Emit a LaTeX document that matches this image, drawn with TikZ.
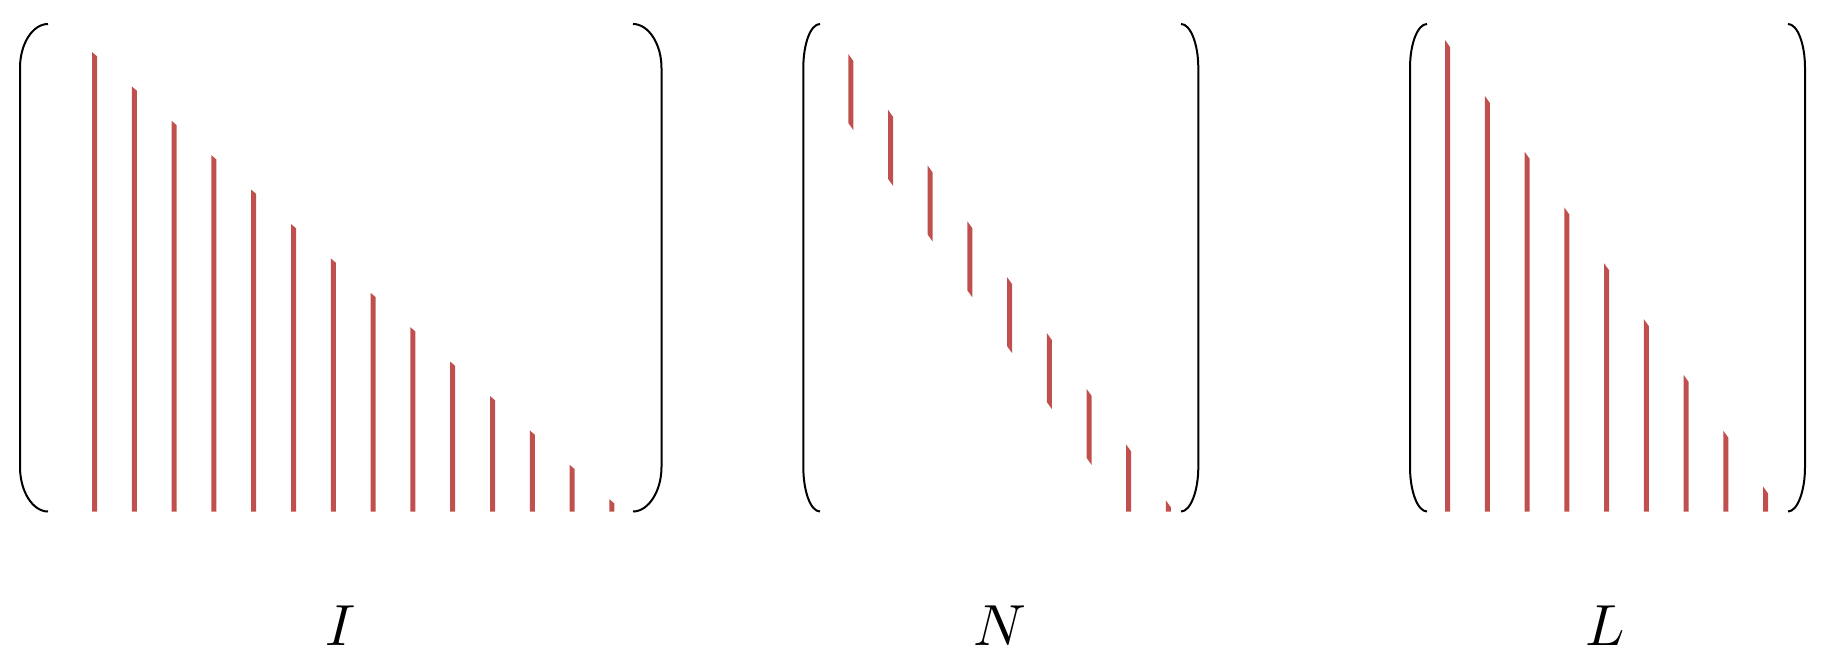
\documentclass[tikz,border=0pt]{standalone}
\usepackage{tikz}
\definecolor{stripred}{RGB}{192,80,77}
\begin{document}
\begin{tikzpicture}[x=1pt,y=-1pt,
  bracket/.style={draw=black,line width=2pt},
  strip/.style={fill=stripred,draw=none},
  lbl/.style={inner sep=0pt,scale=5.8}]
\useasboundingbox (0,0) rectangle (1831,666);
% ---- matrix I
\draw[bracket] (48,24) .. controls (32.6,24) and (20,43.8) .. (20,68) -- (20,467) .. controls (20,491.2) and (32.6,511.5) .. (48,511.5);
\draw[bracket] (633,24) .. controls (648.4,24) and (661.5,43.8) .. (661.5,68) -- (661.5,467) .. controls (661.5,491.2) and (648.4,511.5) .. (633,511.5);
\foreach \i in {0,...,13}{
  \pgfmathsetmacro{\xa}{92+39.8*\i}
  \pgfmathsetmacro{\ya}{52+34.4*\i}
  \fill[strip] (\xa,\ya) -- (\xa+5,\ya+4.3) -- (\xa+5,511.7) -- (\xa,511.7) -- cycle;
}
\node[lbl] (labI) at (341,626) {$I$};
% ---- matrix N
\draw[bracket] (820,24) .. controls (810.6,24) and (803.3,43.8) .. (803.3,68) -- (803.3,467) .. controls (803.3,491.2) and (810.6,511.5) .. (820,511.5);
\draw[bracket] (1181,24) .. controls (1190.4,24) and (1198.3,43.8) .. (1198.3,68) -- (1198.3,467) .. controls (1198.3,491.2) and (1190.4,511.5) .. (1181,511.5);
\foreach \i in {0,...,8}{
  \pgfmathsetmacro{\xa}{848.3+39.7*\i}
  \pgfmathsetmacro{\ya}{54+55.8*\i}
  \pgfmathsetmacro{\yb}{min(\ya+69,511.7)}
  \pgfmathsetmacro{\yc}{min(\ya+76,511.7)}
  \fill[strip] (\xa,\ya) -- (\xa+5,\ya+7) -- (\xa+5,\yc) -- (\xa,\yb) -- cycle;
}
\node[lbl] (labN) at (1000,626) {$N$};
% ---- matrix L
\draw[bracket] (1427,24) .. controls (1417.6,24) and (1410,43.8) .. (1410,68) -- (1410,467) .. controls (1410,491.2) and (1417.6,511.5) .. (1427,511.5);
\draw[bracket] (1788,24) .. controls (1797.4,24) and (1805,43.8) .. (1805,68) -- (1805,467) .. controls (1805,491.2) and (1797.4,511.5) .. (1788,511.5);
\foreach \i in {0,...,8}{
  \pgfmathsetmacro{\xa}{1445+39.75*\i}
  \pgfmathsetmacro{\ya}{40+55.8*\i}
  \fill[strip] (\xa,\ya) -- (\xa+5,\ya+7) -- (\xa+5,511.7) -- (\xa,511.7) -- cycle;
}
\node[lbl] (labL) at (1605,626) {$L$};
\end{tikzpicture}
\end{document}
